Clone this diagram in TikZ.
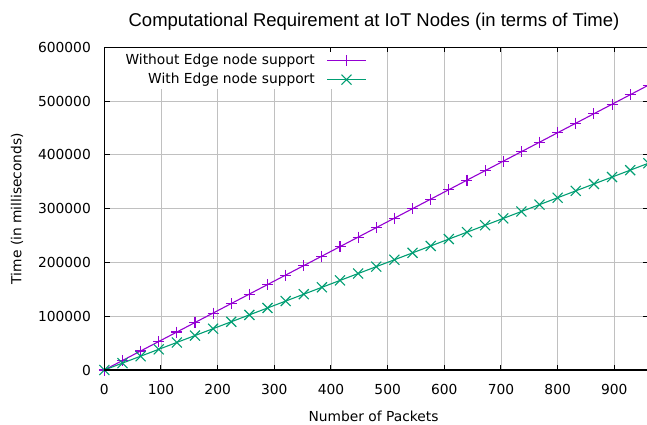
\documentclass[tikz,border=0pt]{standalone}
\usepackage{fontspec}
\setmainfont{DejaVu Sans}
\newfontfamily\titlefont{Liberation Sans}
\definecolor{violetline}{HTML}{9400D3}
\definecolor{greenline}{HTML}{009E73}
\definecolor{gridgray}{HTML}{C0C0C0}
\tikzset{
  gridline/.style={draw=gridgray, line width=0.9pt},
  frameline/.style={draw=black, line width=1.5pt},
  tickline/.style={draw=black, line width=1pt},
  labelfont/.style={font=\fontsize{13.8}{16}\selectfont},
  curveline/.style={line width=1.1pt},
  plusmark/.pic={\draw[line width=1.1pt] (-5.5,0) -- (5.5,0) (0,-5.5) -- (0,5.5);},
  crossmark/.pic={\draw[line width=1.1pt] (-5,-5) -- (5,5) (-5,5) -- (5,-5);},
}
\begin{document}
\begin{tikzpicture}[x=1pt,y=-1pt]
\useasboundingbox (0,0) rectangle (647,425);
\fill[white] (0,0) rectangle (647,425);

% plot area: x from 104.3 (0 packets) at 0.5667 px per packet,
% y from 370 (0 ms) at 53.783 px per 100000 ms
\coordinate (ll) at (104.3,370);
\coordinate (ur) at (649,47.3);

% grid
\foreach \k in {1,...,9}
  \draw[gridline] ({104.3+56.67*\k},370) -- ({104.3+56.67*\k},47.3);
\foreach \k in {1,...,5}
  \draw[gridline] (104.3,{370-53.783*\k}) -- (649,{370-53.783*\k});

% opaque key background
\fill[white] (104.8,47.3) rectangle (372,89);

% data curves
\begin{scope}
  \clip (ll) rectangle (ur);
  \draw[curveline, violetline] (ll) -- ({104.3+18.134*30},{370-9.4917*30});
  \draw[curveline, greenline] (ll) -- ({104.3+18.134*30},{370-6.8907*30});
\end{scope}
\begin{scope}[violetline]
  \foreach \i in {0,...,30}
    \pic at ({104.3+18.134*\i},{370-9.4917*\i}) {plusmark};
\end{scope}
\begin{scope}[greenline]
  \foreach \i in {0,...,30}
    \pic at ({104.3+18.134*\i},{370-6.8907*\i}) {crossmark};
\end{scope}

% frame and ticks
\draw[frameline] (ll) rectangle (ur);
\foreach \k in {1,...,9} {
  \draw[tickline] ({104.3+56.67*\k},370) -- ({104.3+56.67*\k},365);
}
\foreach \k in {4,...,9} {
  \draw[tickline] ({104.3+56.67*\k},47.3) -- ({104.3+56.67*\k},52.3);
}
\foreach \k in {1,...,5} {
  \draw[tickline] (104.3,{370-53.783*\k}) -- (110.3,{370-53.783*\k});
  \draw[tickline] (649,{370-53.783*\k}) -- (643,{370-53.783*\k});
}

% tick labels
\foreach \k in {0,...,9} {
  \pgfmathtruncatemacro{\v}{100*\k}
  \node[labelfont, anchor=base, inner sep=0pt] (xt\k) at ({104.3+56.67*\k},394.5) {\v};
}
\node[labelfont, anchor=east, inner sep=0pt] (yt0) at (91,370) {0};
\foreach \k in {1,...,6}
  \node[labelfont, anchor=east, inner sep=0pt] (yt\k) at (91,{370-53.783*\k}) {\k00000};

% axis labels and title
\node[labelfont, anchor=base, inner sep=0pt] (xlabel) at (373.5,421) {Number of Packets};
\node[labelfont, rotate=90, inner sep=0pt] (ylabel) at (17,208.5) {Time (in milliseconds)};
\node[font=\titlefont\fontsize{18.5}{22}\selectfont, anchor=base, inner sep=0pt] (title)
  at (374,26.5) {Computational Requirement at IoT Nodes (in terms of Time)};

% key
\node[labelfont, anchor=east, inner sep=0pt] (key1) at (315,60.7) {Without Edge node support};
\node[labelfont, anchor=east, inner sep=0pt] (key2) at (315,79.7) {With Edge node support};
\coordinate (k1a) at (327.3,60.7);
\coordinate (k1b) at (365.7,60.7);
\coordinate (k2a) at (327.3,79.7);
\coordinate (k2b) at (365.7,79.7);
\draw[curveline, violetline] (k1a) -- (k1b);
\draw[curveline, greenline] (k2a) -- (k2b);
\pic[violetline] at (346.5,60.7) {plusmark};
\pic[greenline] at (346.5,79.7) {crossmark};
\end{tikzpicture}
\end{document}
